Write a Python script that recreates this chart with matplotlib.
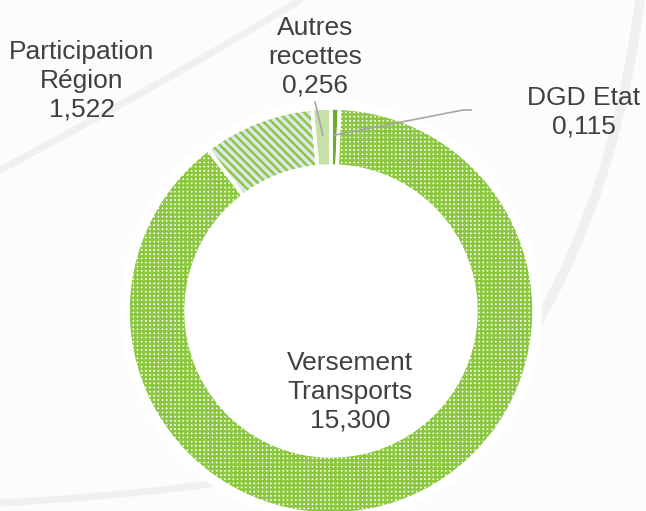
import matplotlib
matplotlib.use("Agg")
import matplotlib.pyplot as plt
from matplotlib.path import Path
from matplotlib.patches import PathPatch
import numpy as np

# ---- data ----
categories = ["DGD Etat", "Versement\nTransports", "Participation\nRégion", "Autres\nrecettes"]
values = [0.115, 15.300, 1.522, 0.256]
value_labels = ["0,115", "15,300", "1,522", "0,256"]

# ---- style ----
plt.rcParams['font.family'] = ['Liberation Sans', 'DejaVu Sans']
plt.rcParams['hatch.linewidth'] = 1.75
TEXT_COLOR = '#404040'
GREEN = '#8CC740'
face_colors = ['#6EAA2E', 'white', '#DDE7EC', '#C6E1A6']
hatch_colors = ['#6EAA2E', GREEN, GREEN, '#C6E1A6']
hatches = [None, '++++', '\\\\\\\\', None]

W, H, DPI = 646, 511, 100
CX, CY, R = 331, 311, 203  # pixel centre and radius of the ring
RING = 0.286

fig = plt.figure(figsize=(W / DPI, H / DPI), dpi=DPI)
fig.patch.set_facecolor('#FCFCFC')
ax = fig.add_axes([0, 0, 1, 1])
ax.axis('off')


def px(x, y):
    return ((x - CX) / R, (CY - y) / R)


# faint background swooshes
def swoosh(p0, p1, p2, lw):
    verts = [px(*p0), px(*p1), px(*p2)]
    path = Path(verts, [Path.MOVETO, Path.CURVE3, Path.CURVE3])
    ax.add_patch(PathPatch(path, facecolor='none', edgecolor='#F0F0F0',
                           lw=lw, capstyle='round', zorder=0))

swoosh((0, 170), (170, 80), (300, 0), 5)
swoosh((640, 0), (610, 230), (500, 380), 7)
swoosh((0, 503), (200, 492), (340, 462), 5)

# white halo around the ring
halo = plt.Circle((0, 0), 1.035, color='white', zorder=1)
ax.add_patch(halo)

# ring with patterns
wedges, _ = ax.pie(values, startangle=90, counterclock=False, radius=1,
                   wedgeprops=dict(width=RING, linewidth=0))
for w, fc, hc, h in zip(wedges, face_colors, hatch_colors, hatches):
    w.set_facecolor(fc)
    w.set_edgecolor(hc)
    w.set_linewidth(0)
    w.set_zorder(2)
    if h:
        w.set_hatch(h)

# white separators
sep, _ = ax.pie(values, startangle=90, counterclock=False, radius=1,
                wedgeprops=dict(width=RING, linewidth=2.6, edgecolor='white',
                                facecolor='none'))
for s in sep:
    s.set_zorder(3)

ax.set_xlim(-CX / R, (W - CX) / R)
ax.set_ylim(-(H - CY) / R, CY / R)
ax.set_aspect('auto')

# labels
label_pos = [(584, 112), (350, 392), (82, 81), (315, 57)]
for cat, val, (x, y) in zip(categories, value_labels, label_pos):
    ax.text(*px(x, y), f"{cat}\n{val}", ha='center', va='center',
            multialignment='center', fontsize=19, color=TEXT_COLOR,
            linespacing=1.24, zorder=5)


def anchor(wedge, r=0.867):
    ang = np.deg2rad((wedge.theta1 + wedge.theta2) / 2)
    return (r * np.cos(ang), r * np.sin(ang))

# leader lines
a_start = px(315, 102)
a_end = anchor(wedges[3])
ax.plot([a_start[0], a_end[0]], [a_start[1], a_end[1]],
        color='#A6A6A6', lw=1.2, zorder=4)
dg = anchor(wedges[0])
p1 = px(463, 110)
p2 = px(471, 110)
ax.plot([dg[0], p1[0], p2[0]], [dg[1], p1[1], p2[1]],
        color='#A6A6A6', lw=1.2, zorder=4)

fig.savefig('out.png', dpi=DPI, facecolor=fig.get_facecolor())
